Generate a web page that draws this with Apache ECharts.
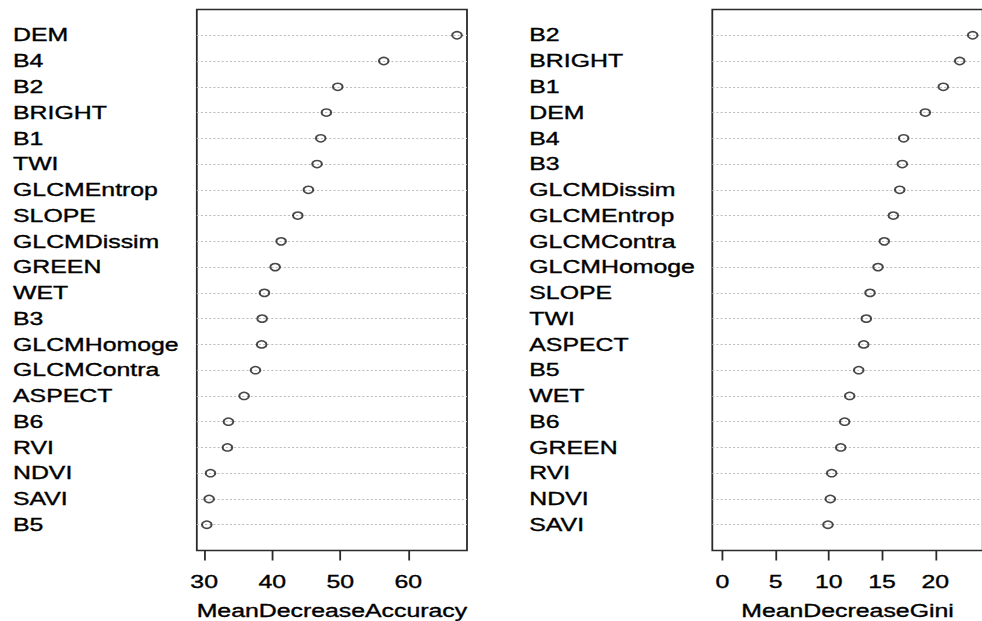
<!DOCTYPE html>
<html>
<head>
<meta charset="utf-8">
<script src="https://cdn.jsdelivr.net/npm/echarts@6/dist/echarts.min.js"></script>
<style>
  html, body { margin: 0; padding: 0; background: #fff; overflow: hidden; }
  #chart { height: 621px; transform-origin: 0 0; }
</style>
</head>
<body>
<div id="chart"></div>
<script>
// Variable importance from a random forest (varImpPlot style dot charts)
const accNames = ['DEM', 'B4', 'B2', 'BRIGHT', 'B1', 'TWI', 'GLCMEntrop', 'SLOPE', 'GLCMDissim', 'GREEN',
                  'WET', 'B3', 'GLCMHomoge', 'GLCMContra', 'ASPECT', 'B6', 'RVI', 'NDVI', 'SAVI', 'B5'];
const accValues = [67.15, 56.39, 49.63, 47.96, 47.13, 46.59, 45.32, 43.76, 41.31, 40.43,
                   38.86, 38.52, 38.45, 37.54, 35.87, 33.57, 33.42, 30.93, 30.73, 30.39];
const accTicks = [30, 40, 50, 60];

const giniNames = ['B2', 'BRIGHT', 'B1', 'DEM', 'B4', 'B3', 'GLCMDissim', 'GLCMEntrop', 'GLCMContra', 'GLCMHomoge',
                   'SLOPE', 'TWI', 'ASPECT', 'B5', 'WET', 'B6', 'GREEN', 'RVI', 'NDVI', 'SAVI'];
const giniValues = [23.51, 22.29, 20.75, 19.06, 17.03, 16.90, 16.66, 16.06, 15.21, 14.62,
                    13.87, 13.52, 13.28, 12.81, 11.96, 11.49, 11.12, 10.27, 10.14, 9.92];
const giniTicks = [0, 5, 10, 15, 20];

const accTitle = 'MeanDecreaseAccuracy';
const giniTitle = 'MeanDecreaseGini';

// The whole figure is drawn with a horizontal stretch, like the exported device
const SX = 1.38;
const FULL_W = 982;
const dom = document.getElementById('chart');
dom.style.width = (FULL_W / SX) + 'px';
dom.style.transform = 'scaleX(' + SX + ')';

const FONT = '"Liberation Sans", Arial, sans-serif';
const FS = 18;
// slightly heavier glyphs, as on the Windows graphics device
const TEXT = { color: '#000', fontFamily: FONT, fontSize: FS, textBorderColor: '#000', textBorderWidth: 0.35 };

// R-style 4% range expansion
function expand(lo, hi) {
  const d = (hi - lo) * 0.04;
  return [lo - d, hi + d];
}
const accRange = expand(Math.min(...accValues), Math.max(...accValues));
const giniRange = expand(0, Math.max(...giniValues));

const n = accNames.length;

// panel boxes, in stretched (screen) pixels
const TOP = 9.5, HEIGHT = 541;
const boxes = [
  { left: 196.8, width: 270.2, labelX: 13 },
  { left: 712.3, width: 270.4, labelX: 529.3 }
];

function grid(b) {
  return {
    left: b.left / SX, top: TOP, width: b.width / SX, height: HEIGHT,
    show: true, borderColor: '#2a2a2a', borderWidth: 1.3, backgroundColor: 'transparent',
    containLabel: false, outerBoundsMode: 'none'
  };
}

function xAxis(idx, range, ticks, title) {
  return {
    type: 'value', gridIndex: idx, min: range[0], max: range[1],
    axisLine: { show: false },
    axisTick: { show: true, inside: false, length: 10, customValues: ticks,
                lineStyle: { color: '#2a2a2a', width: 1.3 } },
    axisLabel: Object.assign({ show: true, customValues: ticks, margin: 22.5 }, TEXT),
    splitLine: { show: false },
    name: title, nameLocation: 'middle', nameGap: 51,
    nameTextStyle: Object.assign({ lineHeight: 18 }, TEXT)
  };
}

function yAxis(idx, names, b) {
  return {
    type: 'value', gridIndex: idx, min: 0, max: n + 1, interval: 1,
    axisLine: { show: false },
    axisTick: { show: false },
    axisLabel: Object.assign({
      show: true, align: 'left', margin: (b.left - b.labelX) / SX,
      padding: [3, 0, 0, 0],
      formatter: v => (v >= 1 && v <= n) ? names[n - v] : ''
    }, TEXT),
    splitLine: { show: true, showMinLine: false, showMaxLine: false,
                 lineStyle: { color: '#bdbdbd', width: 1, type: [1.5, 1.5] } }
  };
}

function dots(idx, values) {
  return {
    type: 'scatter', xAxisIndex: idx, yAxisIndex: idx,
    symbol: 'circle', symbolSize: [7, 7.2],
    itemStyle: { color: 'transparent', borderColor: '#1a1a1a', borderWidth: 1.5 },
    silent: true,
    data: values.map((v, i) => [v, n - i])
  };
}

const chart = echarts.init(dom, null, { renderer: 'svg' });
chart.setOption({
  animation: false,
  backgroundColor: '#fff',
  grid: boxes.map(grid),
  xAxis: [xAxis(0, accRange, accTicks, accTitle), xAxis(1, giniRange, giniTicks, giniTitle)],
  yAxis: [yAxis(0, accNames, boxes[0]), yAxis(1, giniNames, boxes[1])],
  series: [dots(0, accValues), dots(1, giniValues)]
});
</script>
</body>
</html>
